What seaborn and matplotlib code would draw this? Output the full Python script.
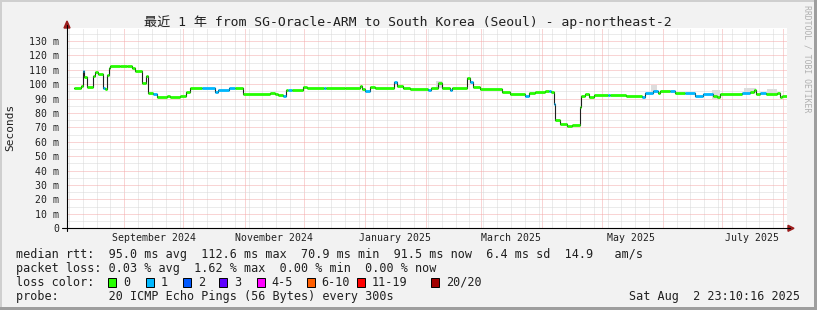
import matplotlib
matplotlib.use("Agg")
import matplotlib.pyplot as plt
import matplotlib.dates as mdates
from matplotlib.lines import Line2D
from matplotlib.patches import Rectangle, Polygon
from matplotlib.ticker import MultipleLocator, FixedLocator
import numpy as np
import pandas as pd
import seaborn as sns

# ---------------- data ----------------
seg_start = [
    "2024-08-06 12:00", "2024-08-10 00:00", "2024-08-11 00:00", "2024-08-11 12:00", "2024-08-13 00:00",
    "2024-08-16 00:00", "2024-08-17 00:00", "2024-08-18 12:00", "2024-08-21 00:00", "2024-08-22 00:00",
    "2024-08-23 00:00", "2024-08-24 12:00", "2024-08-25 00:00", "2024-08-30 00:00", "2024-09-02 12:00",
    "2024-09-05 00:00", "2024-09-06 12:00", "2024-09-10 00:00", "2024-09-12 00:00", "2024-09-13 00:00",
    "2024-09-15 12:00", "2024-09-17 12:00", "2024-09-22 12:00", "2024-09-24 00:00", "2024-09-29 12:00",
    "2024-10-02 12:00", "2024-10-04 12:00", "2024-10-10 12:00", "2024-10-17 00:00", "2024-10-18 12:00",
    "2024-10-24 00:00", "2024-10-27 00:00", "2024-10-31 00:00", "2024-11-14 00:00", "2024-11-16 12:00",
    "2024-11-18 00:00", "2024-11-20 12:00", "2024-11-22 00:00", "2024-11-23 00:00", "2024-11-25 00:00",
    "2024-11-30 12:00", "2024-12-02 12:00", "2024-12-11 00:00", "2024-12-12 12:00", "2024-12-22 00:00",
    "2024-12-29 12:00", "2024-12-30 12:00", "2025-01-01 00:00", "2025-01-03 12:00", "2025-01-06 00:00",
    "2025-01-15 12:00", "2025-01-17 12:00", "2025-01-20 12:00", "2025-01-24 00:00", "2025-02-02 00:00",
    "2025-02-03 12:00", "2025-02-07 00:00", "2025-02-09 00:00", "2025-02-13 00:00", "2025-02-14 00:00",
    "2025-02-21 12:00", "2025-02-23 12:00", "2025-02-25 00:00", "2025-02-28 12:00", "2025-03-11 12:00",
    "2025-03-15 12:00", "2025-03-23 00:00", "2025-03-25 00:00", "2025-03-28 00:00", "2025-04-02 12:00",
    "2025-04-04 12:00", "2025-04-05 12:00", "2025-04-07 00:00", "2025-04-07 12:00", "2025-04-10 00:00",
    "2025-04-13 12:00", "2025-04-16 00:00", "2025-04-20 00:00", "2025-04-20 12:00", "2025-04-22 12:00",
    "2025-04-24 12:00", "2025-04-27 00:00", "2025-05-04 00:00", "2025-05-05 00:00", "2025-05-13 12:00",
    "2025-05-21 12:00", "2025-05-23 00:00", "2025-05-27 00:00", "2025-05-29 12:00", "2025-05-30 12:00",
    "2025-06-04 12:00", "2025-06-07 00:00", "2025-06-12 12:00", "2025-06-17 12:00", "2025-06-21 12:00",
    "2025-06-26 12:00", "2025-06-28 12:00", "2025-06-30 00:00", "2025-07-11 00:00", "2025-07-15 00:00",
    "2025-07-17 00:00", "2025-07-18 00:00", "2025-07-20 12:00", "2025-07-23 12:00", "2025-07-29 00:00",
    "2025-07-30 12:00", "2025-07-31 12:00", "2025-08-02 23:10",
]

median_ms = [
    97.2, 99.0, 109.4, 105.3, 98.3,
    106.0, 108.8, 107.0, 97.2, 96.5,
    106.5, 111.5, 112.3, 112.6, 112.3,
    111.0, 109.2, 100.6, 106.0, 94.2,
    93.1, 91.4, 92.0, 91.0, 91.8,
    94.5, 97.2, 97.2, 94.9, 96.0,
    97.2, 97.2, 93.1, 93.8, 93.0,
    92.4, 92.1, 96.0, 96.0, 96.0,
    98.3, 97.2, 97.2, 97.2, 97.6,
    99.0, 96.5, 95.5, 97.9, 97.2,
    101.8, 98.8, 97.2, 96.5, 96.0,
    97.2, 100.7, 97.2, 96.0, 97.2,
    104.1, 101.8, 98.3, 96.5, 94.9,
    93.3, 92.1, 94.2, 94.7, 95.6,
    95.6, 94.9, 86.1, 75.2, 72.5,
    71.0, 71.6, 84.0, 91.6, 93.3,
    91.2, 92.8, 92.8, 92.8, 92.1,
    91.2, 94.0, 95.1, 93.7, 95.1,
    95.1, 94.0, 94.0, 91.6, 93.3,
    91.6, 91.2, 93.5, 94.0, 94.7,
    96.3, 93.3, 94.0, 93.3, 94.0,
    90.9, 91.6, 91.5,
]

loss_bucket = [
    0, 0, 1, 0, 0,
    0, 0, 0, 1, 0,
    0, 0, 0, 0, 0,
    0, 0, 0, 0, 0,
    1, 0, 0, 0, 0,
    0, 0, 1, 1, 1,
    1, 0, 0, 0, 0,
    0, 1, 0, 1, 0,
    0, 0, 1, 0, 0,
    0, 0, 1, 0, 0,
    1, 0, 0, 0, 1,
    0, 0, 0, 1, 0,
    0, 1, 0, 0, 0,
    0, 1, 0, 0, 0,
    1, 0, 1, 0, 0,
    0, 0, 0, 0, 0,
    0, 0, 1, 0, 0,
    1, 1, 1, 0, 0,
    1, 0, 1, 1, 1,
    0, 0, 0, 1, 0,
    0, 0, 1, 0, 0,
    0, 0, 0,
]

# smoke (spread of pings) where it is visible
smoke_start = ["2025-02-06", "2025-05-26", "2025-06-26", "2025-07-12", "2025-07-24"]
smoke_end = ["2025-02-09", "2025-05-29", "2025-06-30", "2025-07-18", "2025-07-29"]
smoke_lo = [97.5, 94.5, 90.0, 94.0, 93.5]
smoke_hi = [102.5, 99.7, 96.0, 97.5, 96.5]

y_ticks = [0, 10, 20, 30, 40, 50, 60, 70, 80, 90, 100, 110, 120, 130]
y_tick_labels = ["0"] + [f"{v} m" for v in y_ticks[1:]]
month_labels = ["September 2024", "November 2024", "January 2025", "March 2025", "May 2025", "July 2025"]
month_label_dates = ["2024-09-16", "2024-11-16", "2025-01-16", "2025-03-16", "2025-05-16", "2025-07-16"]

loss_labels = ["0", "1", "2", "3", "4-5", "6-10", "11-19", "20/20"]
loss_colors = ["#26ff00", "#00b8ff", "#0059ff", "#5e00ff", "#ff00ff", "#ff5e00", "#ff0000", "#a10000"]

title = "最近 1 年 from SG-Oracle-ARM to South Korea (Seoul) - ap-northeast-2"
legend_rtt = "median rtt:  95.0 ms avg  112.6 ms max  70.9 ms min  91.5 ms now  6.4 ms sd  14.9   am/s"
legend_loss = "packet loss: 0.03 % avg  1.62 % max  0.00 % min  0.00 % now"
legend_probe = "probe:       20 ICMP Echo Pings (56 Bytes) every 300s"
stamp = "Sat Aug  2 23:10:16 2025"

# ---------------- figure ----------------
sns.set_style("white")
plt.rcParams["font.family"] = ["DejaVu Sans Mono", "Noto Sans CJK SC"]

W, H = 817, 310
fig = plt.figure(figsize=(W / 100, H / 100), dpi=100)
fig.patch.set_facecolor("#f2f2f2")


def fx(x):
    return x / W


def fy(y):
    return 1 - y / H


AX_L, AX_R, AX_B, AX_T = 67, 787, 228.3, 28.3
ax = fig.add_axes([fx(AX_L), fy(AX_B), (AX_R - AX_L) / W, (AX_B - AX_T) / H])
ax.set_facecolor("white")

t0 = pd.Timestamp("2024-08-02 23:10")
t1 = pd.Timestamp("2025-08-02 23:10")

times = pd.to_datetime(seg_start)
df = pd.DataFrame({"time": times, "median": median_ms, "loss": loss_bucket})

# smoke
for s, e, lo, hi in zip(smoke_start, smoke_end, smoke_lo, smoke_hi):
    ax.fill_between(pd.to_datetime([s, e]), [lo, lo], [hi, hi], color="#dddddd", lw=0, zorder=2)

# dark median line (steps)
sns.lineplot(data=df, x="time", y="median", estimator=None, drawstyle="steps-post",
             color="#202020", linewidth=0.8, ax=ax, zorder=3)

# loss-coloured overlay
seg_colors = [loss_colors[b] for b in loss_bucket[:-1]]
ax.hlines(df["median"].values[:-1], df["time"].values[:-1], df["time"].values[1:],
          colors=seg_colors, linewidth=2.0, zorder=4)

ax.set_xlim(t0, t1)
ax.set_ylim(0, 138.8)
ax.set_xlabel("")
ax.set_ylabel("")

# grid
ax.xaxis.set_major_locator(mdates.MonthLocator())
ax.xaxis.set_minor_locator(mdates.WeekdayLocator(byweekday=mdates.SU))
ax.yaxis.set_major_locator(FixedLocator(y_ticks))
ax.yaxis.set_minor_locator(MultipleLocator(5))
ax.set_yticklabels(y_tick_labels)
ax.set_xticklabels([])
ax.grid(which="major", color="#f4aaaa", linestyle=(0, (1, 1)), linewidth=0.72)
ax.grid(which="minor", color="#d9d9d9", linestyle=(0, (1, 1)), linewidth=0.72)
ax.set_axisbelow(True)
ax.tick_params(axis="x", which="major", length=2.5, width=0.7, color="#f08080", direction="out")
ax.tick_params(axis="x", which="minor", length=1.5, width=0.7, color="#c8c8c8", direction="out")
ax.tick_params(axis="y", which="major", length=2.5, width=0.7, color="#202020", direction="out",
               labelsize=7.1, pad=3, labelcolor="#202020")
ax.tick_params(axis="y", which="minor", length=0)
for sp in ax.spines.values():
    sp.set_visible(False)

# month labels
for lab, d in zip(month_labels, month_label_dates):
    ax.text(pd.Timestamp(d), (AX_B - 237.7) / (AX_B - AX_T), lab, transform=ax.get_xaxis_transform(),
            ha="center", va="center", fontsize=7.1, color="#202020", clip_on=False)

# axes lines + arrows
fig.add_artist(Line2D([fx(62), fx(790)], [fy(AX_B), fy(AX_B)], color="black", lw=0.8))
fig.add_artist(Line2D([fx(AX_L), fx(AX_L)], [fy(231), fy(25)], color="black", lw=0.8))
fig.add_artist(Polygon([[fx(788), fy(AX_B - 3)], [fx(788), fy(AX_B + 3)], [fx(794), fy(AX_B)]],
                       closed=True, color="#9b1c1c", transform=fig.transFigure))
fig.add_artist(Polygon([[fx(AX_L - 3), fy(28)], [fx(AX_L + 3), fy(28)], [fx(AX_L), fy(21)]],
                       closed=True, color="#9b1c1c", transform=fig.transFigure))

# title and labels
fig.text(fx(408), fy(22), title, ha="center", va="center", fontsize=9.45, color="#202020")
fig.text(fx(10), fy(127), "Seconds", rotation=90, ha="center", va="center", fontsize=8, color="#202020")
fig.text(fx(807), fy(5), "RRDTOOL / TOBI OETIKER", rotation=270, ha="center", va="top",
         fontsize=5.9, color="#b0b0b0")

# legend
fs = 8.5
fig.text(fx(16), fy(254.3), legend_rtt, ha="left", va="center", fontsize=fs, color="#202020")
fig.text(fx(16), fy(268.3), legend_loss, ha="left", va="center", fontsize=fs, color="#202020")
fig.text(fx(16), fy(282.3), "loss color:", ha="left", va="center", fontsize=fs, color="#202020")
sq_x = [108.3, 145.7, 182.7, 219.3, 256.7, 306.7, 356.7, 430.7]
for x, c, lab in zip(sq_x, loss_colors, loss_labels):
    fig.add_artist(Rectangle((fx(x), fy(286.7)), 8 / W, 9 / H, facecolor=c, edgecolor="black",
                             lw=0.7, transform=fig.transFigure))
    fig.text(fx(x + 15), fy(282.3), lab, ha="left", va="center", fontsize=fs, color="#202020")
fig.text(fx(16), fy(296.3), legend_probe, ha="left", va="center", fontsize=fs, color="#202020")
fig.text(fx(800), fy(296.3), stamp, ha="right", va="center", fontsize=fs, color="#202020")

# frame
fig.add_artist(Rectangle((0, fy(2)), 1, 2 / H, color="#cfcfcf", transform=fig.transFigure, lw=0))
fig.add_artist(Rectangle((0, 0), 2 / W, 1, color="#cfcfcf", transform=fig.transFigure, lw=0))
fig.add_artist(Rectangle((0, 0), 1, 3 / H, color="#9e9e9e", transform=fig.transFigure, lw=0))
fig.add_artist(Rectangle((fx(814), 0), 3 / W, 1, color="#9e9e9e", transform=fig.transFigure, lw=0))

fig.savefig("out.png", dpi=100, facecolor=fig.get_facecolor())
